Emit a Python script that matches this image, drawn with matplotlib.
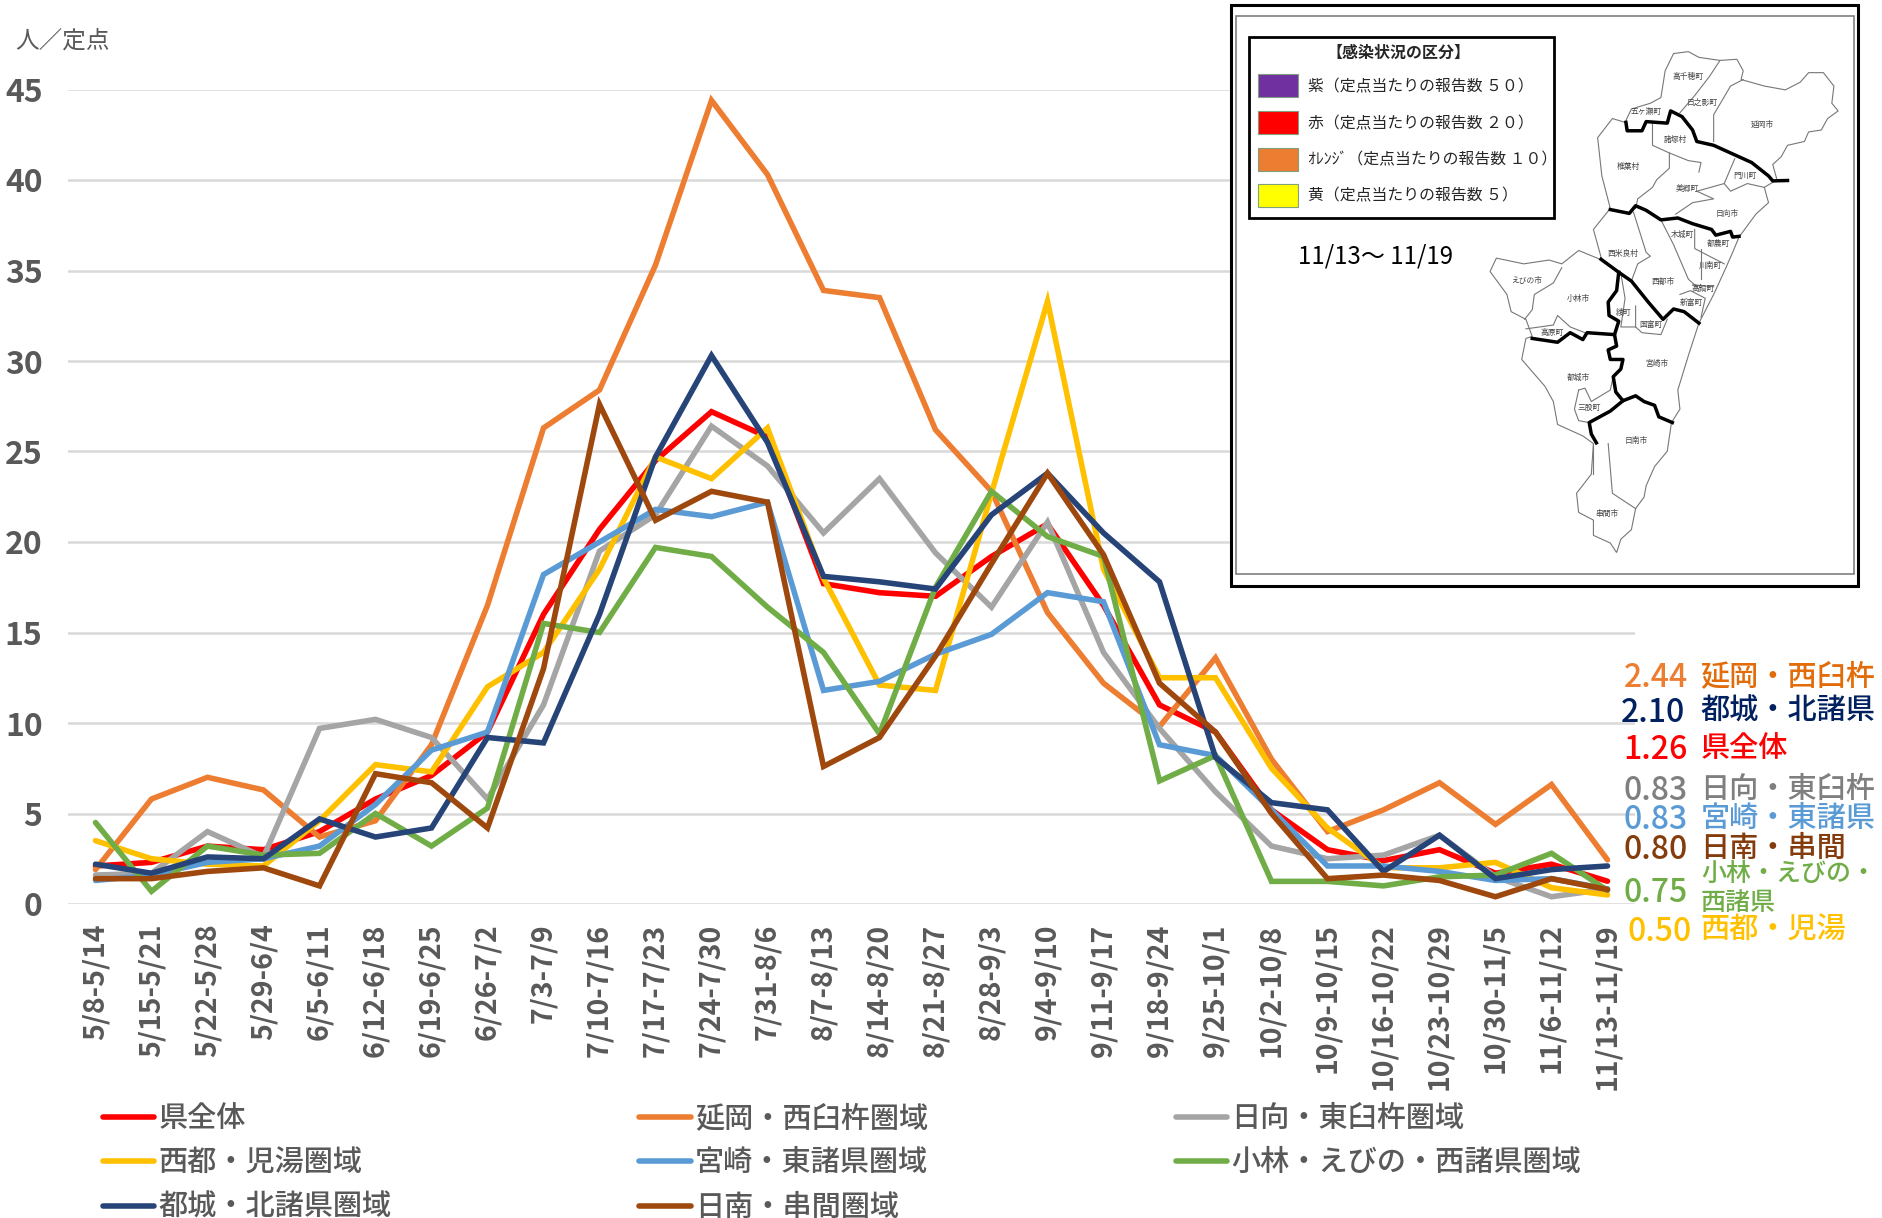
import matplotlib
matplotlib.use("Agg")
import matplotlib.pyplot as plt
from matplotlib.patches import Rectangle, Polygon

plt.rcParams['font.family'] = ['Noto Sans CJK JP', 'DejaVu Sans']

weeks = ["5/8-5/14","5/15-5/21","5/22-5/28","5/29-6/4","6/5-6/11","6/12-6/18","6/19-6/25","6/26-7/2",
         "7/3-7/9","7/10-7/16","7/17-7/23","7/24-7/30","7/31-8/6","8/7-8/13","8/14-8/20","8/21-8/27",
         "8/28-9/3","9/4-9/10","9/11-9/17","9/18-9/24","9/25-10/1","10/2-10/8","10/9-10/15","10/16-10/22",
         "10/23-10/29","10/30-11/5","11/6-11/12","11/13-11/19"]
pref = [2.1,2.3,3.2,3.0,4.0,5.8,7.1,9.5,16.0,20.7,24.5,27.2,25.8,17.7,17.2,17.0,19.2,21.0,16.5,11.0,9.5,5.2,3.0,2.4,3.0,1.7,2.2,1.26]
nobeoka = [1.9,5.8,7.0,6.3,3.7,4.6,8.8,16.5,26.3,28.4,35.3,44.4,40.3,33.9,33.5,26.2,22.8,16.1,12.2,9.8,13.6,8.0,4.0,5.2,6.7,4.4,6.6,2.44]
hyuga = [1.6,1.7,4.0,2.6,9.7,10.2,9.2,5.8,11.0,19.5,21.5,26.4,24.2,20.5,23.5,19.4,16.4,21.1,13.9,9.7,6.2,3.2,2.5,2.7,3.8,1.5,0.4,0.83]
saito = [3.5,2.5,2.2,2.1,4.6,7.7,7.3,12.0,13.9,18.5,24.7,23.5,26.3,18.0,12.1,11.8,22.7,33.3,18.5,12.5,12.5,7.5,4.2,2.0,2.0,2.3,0.9,0.5]
miyazaki = [1.3,1.6,2.3,2.5,3.2,5.5,8.5,9.5,18.2,20.0,21.8,21.4,22.2,11.8,12.3,13.8,14.9,17.2,16.7,8.8,8.2,5.2,2.1,2.1,1.8,1.3,1.4,0.83]
kobayashi = [4.5,0.7,3.2,2.7,2.8,5.0,3.2,5.3,15.5,15.0,19.7,19.2,16.4,13.9,9.4,17.5,22.8,20.3,19.2,6.8,8.2,1.25,1.25,1.0,1.5,1.6,2.8,0.75]
miyakonojo = [2.2,1.7,2.6,2.5,4.7,3.7,4.2,9.2,8.9,16.0,24.7,30.3,25.5,18.1,17.8,17.4,21.5,23.8,20.5,17.8,8.1,5.6,5.2,1.8,3.8,1.4,1.9,2.1]
nichinan = [1.4,1.4,1.8,2.0,1.0,7.2,6.7,4.2,13.0,27.6,21.2,22.8,22.2,7.6,9.2,13.7,18.8,23.8,19.3,12.2,9.5,5.0,1.4,1.6,1.3,0.4,1.4,0.8]

series_names = ["県全体","延岡・西臼杵圏域","日向・東臼杵圏域","西都・児湯圏域","宮崎・東諸県圏域",
                "小林・えびの・西諸県圏域","都城・北諸県圏域","日南・串間圏域"]
series_vals = [pref,nobeoka,hyuga,saito,miyazaki,kobayashi,miyakonojo,nichinan]
series_cols = ["#FF0000","#ED7D31","#A5A5A5","#FFC000","#5B9BD5","#70AD47","#264478","#9E480E"]
yticks = [0,5,10,15,20,25,30,35,40,45]

W,H = 1882,1218
GRAY = "#595959"
fig = plt.figure(figsize=(W/100,H/100),dpi=100,facecolor="white")
ax = fig.add_axes([67.5/W,1-904/H,(1635.5-67.5)/W,(904-89.5)/H])
lines = []
for n,v,c in zip(series_names,series_vals,series_cols):
    l, = ax.plot(range(len(v)),v,color=c,lw=4.0,label=n,solid_capstyle="round",solid_joinstyle="miter",zorder=3)
    lines.append(l)
ax.set_xlim(-0.5,27.5); ax.set_ylim(0,45)
ax.set_yticks(yticks)
ax.set_xticks(range(len(weeks))); ax.set_xticklabels(weeks,rotation=90,fontsize=20.5,color=GRAY,fontweight="bold")
ax.tick_params(axis="both",length=0)
ax.tick_params(axis="x",pad=14)
ax.tick_params(axis="y",pad=18,labelsize=23,labelcolor=GRAY)
for t in ax.get_yticklabels(): t.set_fontweight("bold")
ax.grid(axis="y",color="#D9D9D9",lw=1.8,zorder=0); ax.set_axisbelow(True)
for s in ax.spines.values(): s.set_visible(False)

order = [0,3,6,1,4,7,2,5]
fig.legend([lines[i] for i in order],[series_names[i] for i in order],ncol=3,frameon=False,
           loc="upper left",bbox_to_anchor=(103/W,1-1103/H),prop={"size":21,"weight":"medium"},labelcolor=GRAY,
           handlelength=1.75,handletextpad=0.15,columnspacing=8.5,labelspacing=0.46,borderpad=0,borderaxespad=0)

# overlay in image pixels
ov = fig.add_axes([0,0,1,1],zorder=10); ov.set_xlim(0,W); ov.set_ylim(H,0); ov.axis("off"); ov.patch.set_alpha(0)
ov.text(15,41,"人／定点",fontsize=17,color=GRAY,va="center")

end_labels = [("2.44","延岡・西臼杵","#ED7D31","#E36C0A",675,1688),("2.10","都城・北諸県","#002060","#002060",710,1685),
              ("1.26","県全体","#FF0000","#FF0000",747,1688),("0.83","日向・東臼杵","#7F7F7F","#7F7F7F",788,1688),
              ("0.83","宮崎・東諸県","#5B9BD5","#5B9BD5",817,1688),("0.80","日南・串間","#843C0C","#843C0C",847,1688),
              ("0.75","","#70AD47","#70AD47",890,1688),("0.50","西都・児湯","#FFC000","#FFC000",929,1692)]
for val,name,c1,c2,y,xr in end_labels:
    ov.text(xr,y+3,val,fontsize=23,color=c1,ha="right",va="center",fontweight="medium")
    if name: ov.text(1700.5,y+1.5,name,fontsize=21,color=c2,ha="left",va="center",fontweight="medium")
ov.text(1701,874,"小林・えびの・",fontsize=18,color="#70AD47",va="center",fontweight="medium")
ov.text(1701,903,"西諸県",fontsize=18,color="#70AD47",va="center",fontweight="medium")

# inset panel
ZX,ZY = 2.37,2.615
def px(p): return [(1220+x/ZX,y/ZY) for x,y in p]
def box(x0,y0,x1,y1,**k):
    a,b = px([(x0,y0),(x1,y1)])
    ov.add_patch(Rectangle(a,b[0]-a[0],b[1]-a[1],**k))
box(27,12,1513,1532,fc="white",ec="black",lw=2.2)
box(37,43,1502,1502,fc="white",ec="#7F7F7F",lw=1.2)
box(68,97,792,570,fc="white",ec="black",lw=2.0)
def tx(x,y,s,**k):
    a = px([(x,y)])[0]
    ov.text(a[0],a[1],s,**k)
tx(422,137,"【感染状況の区分】",fontsize=11.5,ha="center",va="center",fontweight="bold",color="#262626")
swatches = [(190,250,"#7030A0","紫（定点当たりの報告数 ５０）"),(287,347,"#FF0000","赤（定点当たりの報告数 ２０）"),
            (382,443,"#ED7D31","ｵﾚﾝｼﾞ（定点当たりの報告数 １０）"),(476,537,"#FFFF00","黄（定点当たりの報告数 ５）")]
for y0,y1,c,s in swatches:
    box(90,y0+4,185,y1+4,fc=c,ec="#7F9F7F",lw=0.8)
    tx(208,(y0+y1)/2+6,s,fontsize=11.4,va="center",color="#262626")
tx(185,672,"11/13〜 11/19",fontsize=17.3,va="center",color="black",family=["Noto Sans CJK JP"])

outline = [(1075,140),(1110,135),(1135,150),(1185,158),(1225,155),(1240,185),(1235,208),(1290,225),(1340,235),(1375,215),(1395,190),(1430,190),(1455,225),(1450,270),(1465,290),(1440,310),(1425,340),(1395,345),(1385,370),(1345,380),(1330,410),(1310,430),(1320,470),(1290,490),(1300,530),(1270,560),(1250,590),(1230,620),(1215,660),(1195,710),(1170,770),(1135,845),(1110,930),(1085,1020),(1090,1070),(1070,1105),(1060,1180),(1030,1220),(1010,1270),(1005,1300),(985,1330),(975,1385),(950,1410),(940,1445),(925,1420),(885,1400),(885,1360),(850,1340),(845,1290),(880,1240),(885,1160),(860,1140),(800,1110),(790,1050),(770,1010),(715,940),(725,885),(740,880),(725,835),(690,815),(680,770),(640,710),(655,675),(720,690),(780,680),(810,690),(850,655),(905,680),(885,600),(925,545),(905,460),(895,360),(930,310),(960,320),(975,285),(1020,270),(1045,255),(1055,185)]
thin = [[(1185,158),(1160,200),(1125,250),(1090,295)],[(1240,208),(1210,225),(1170,300),(1170,370)],
        [(1025,320),(1025,380),(1065,400),(1110,420),(1140,425),(1135,450)],
        [(1065,400),(1065,440),(1035,470),(1025,490),(990,520),(985,545)],
        [(1220,415),(1195,480),(1130,500),(1170,520),(1120,530),(1080,560)],[(1195,480),(1210,500),(1250,480),(1290,490)],
        [(980,555),(1010,660),(1020,670),(990,690),(975,735)],[(1045,575),(1075,640),(1110,730),(1130,750)],
        [(1125,600),(1125,650),(1195,690)],[(1140,650),(1140,730)],[(1120,745),(1170,750)],
        [(1090,770),(1115,760),(1150,780),(1140,830)],[(810,700),(790,740),(745,770),(740,810),(722,835)],
        [(725,860),(790,850),(800,825),(830,855),(865,870)],[(950,715),(960,780),(950,855),(985,855),(985,800)],
        [(985,855),(1000,870),(1045,875),(1060,835)],[(850,1020),(865,1015),(880,1050),(925,1020),(932,985)],
        [(850,1020),(840,1070),(850,1100),(875,1105)],[(920,1160),(930,1290),(985,1330)],[(885,1240),(885,1160)]]
thick = [[(962,320),(965,342),(1000,342),(1010,318),(1060,322),(1068,290),(1095,305),(1120,340),(1130,370),(1170,380),(1220,405),(1260,425),(1300,460),(1310,473),(1345,472)],
         [(925,548),(970,558),(985,538),(1010,550),(1045,575),(1085,570),(1120,585),(1165,600),(1175,615),(1210,605),(1215,620),(1230,618)],
         [(903,678),(945,712),(975,735),(1015,790),(1050,835),(1075,808),(1100,815),(1135,845)],
         [(945,712),(940,760),(920,790),(922,825),(945,840),(935,875),(870,870),(860,888),(830,870),(800,895),(740,885)],
         [(935,875),(940,905),(920,915),(925,940),(955,940),(950,965),(932,985),(938,1025),(955,1048),(985,1035),(1005,1050),(1030,1060),(1040,1090),(1072,1105)],
         [(955,1048),(925,1075),(875,1105),(880,1135),(892,1158)]]
towns = [("高千穂町",1110,200),("日之影町",1142,270),("五ヶ瀬町",1010,293),("延岡市",1285,327),("諸塚村",1080,367),("椎葉村",968,437),
         ("美郷町",1108,495),("門川町",1243,459),("日向市",1203,560),("木城町",1097,615),("都農町",1182,637),("川南町",1163,695),
         ("西米良村",955,665),("えびの市",727,735),("小林市",850,783),("西都市",1050,737),("高鍋町",1145,755),("新富町",1118,793),
         ("綾町",957,818),("国富町",1022,850),("高原町",786,871),("宮崎市",1035,953),("都城市",850,987),("三股町",875,1068),
         ("日南市",986,1153),("串間市",918,1343)]
ov.add_patch(Polygon(px(outline),closed=True,fc="white",ec="#777777",lw=0.8))
for p in thin:
    q = px(p); ov.plot(*zip(*q),color="#777777",lw=0.8)
for p in thick:
    q = px(p); ov.plot(*zip(*q),color="black",lw=2.5,solid_joinstyle="round")
for s,x,y in towns:
    tx(x,y,s,fontsize=5.6,ha="center",va="center",color="#444444")
ov.set_xlim(0,W); ov.set_ylim(H,0)

fig.savefig("out.png",dpi=100,facecolor="white")
